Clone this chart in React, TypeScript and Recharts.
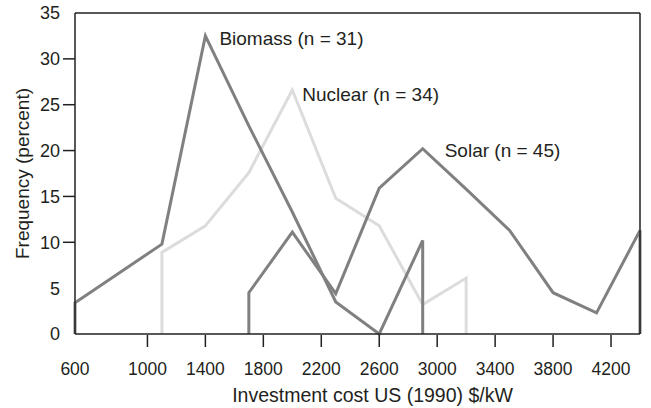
import { LineChart, Line, XAxis, YAxis, ReferenceLine, ReferenceDot } from 'recharts';

// frequency polygons, x = investment cost bin, y = percent
const biomassX = [500, 500, 1100, 1400, 1700, 2000, 2300, 2600, 2900, 2900];
const biomassY = [0, 3.4, 9.8, 32.5, 22.7, 13.3, 3.5, 0, 10.2, 0];

const nuclearX = [1100, 1100, 1400, 1700, 2000, 2300, 2600, 2900, 3200, 3200];
const nuclearY = [0, 8.9, 11.8, 17.6, 26.6, 14.8, 11.8, 3.2, 6.1, 0];

const solarX = [1700, 1700, 2000, 2300, 2600, 2900, 3200, 3500, 3800, 4100, 4400, 4400];
const solarY = [0, 4.5, 11.1, 4.4, 15.9, 20.2, 15.8, 11.3, 4.5, 2.3, 11.3, 0];

const xTicks = [500, 1000, 1400, 1800, 2200, 2600, 3000, 3400, 3800, 4200];
const xTickLabels = ['600', '1000', '1400', '1800', '2200', '2600', '3000', '3400', '3800', '4200'];
const yTicks = [0, 5, 10, 15, 20, 25, 30, 35];
const leftMarks = [10, 15, 20, 25, 30];
const rightMarks = [5, 10, 15, 20, 25, 30];

const labelNames = ['Biomass (n = 31)', 'Nuclear (n = 34)', 'Solar (n = 45)'];
const labelAtX = [1400, 2000, 2900];
const labelAtY = [32.5, 26.6, 20.2];

const FONT = '"Liberation Sans", Arial, Helvetica, sans-serif';
const INK = '#231f20';
const DARK = '#808080';
const LIGHT = '#dcdcdc';
const labelOffsets = [13, 9, 21];
const labelDy = [2, 4, 2];

const pts = (xs: number[], ys: number[]) => xs.map((x, i) => ({ x, y: ys[i] }));

function XTick({ x, y, payload }: any) {
  const i = xTicks.indexOf(payload.value);
  return (
    <g>
      {i > 0 && <line x1={x} x2={x} y1={y + 1} y2={y + 13} stroke={INK} strokeWidth={1.5} />}
      <text x={x} y={y + 41} textAnchor="middle" fontSize={17.5} fontFamily={FONT} fill={INK}>
        {xTickLabels[i]}
      </text>
    </g>
  );
}

function LeftTick({ x, y, payload }: any) {
  const v = payload.value;
  return (
    <g>
      {leftMarks.includes(v) && <line x1={x - 12} x2={x} y1={y} y2={y} stroke={INK} strokeWidth={1.5} />}
      <text x={x - 15} y={y} dy="0.36em" textAnchor="end" fontSize={18} fontFamily={FONT} fill={INK}>
        {v}
      </text>
    </g>
  );
}

function RightTick({ x, y, payload }: any) {
  if (!rightMarks.includes(payload.value)) return <g />;
  return <line x1={x} x2={x + 10} y1={y} y2={y} stroke={INK} strokeWidth={1.5} />;
}

export default function App() {
  const axisLine = { stroke: INK, strokeWidth: 1.5 };
  return (
    <div style={{ position: 'absolute', left: 0, top: 0 }}>
      <LineChart width={651} height={408} margin={{ top: 13, right: 0, bottom: 0, left: 0 }}>
        <XAxis
          type="number"
          dataKey="x"
          domain={[500, 4400]}
          ticks={xTicks}
          interval={0}
          height={74}
          tickSize={0}
          tickMargin={0}
          tickLine={false}
          axisLine={axisLine}
          tick={<XTick />}
          label={{
            value: 'Investment cost US (1990) $/kW',
            position: 'insideBottom',
            offset: 6,
            dx: 15,
            fontSize: 19.5,
            fontFamily: FONT,
            fill: INK,
          }}
        />
        <YAxis
          yAxisId="left"
          type="number"
          domain={[0, 35]}
          ticks={yTicks}
          interval={0}
          width={75}
          tickSize={0}
          tickMargin={0}
          tickLine={false}
          axisLine={axisLine}
          tick={<LeftTick />}
          label={{
            value: 'Frequency (percent)',
            angle: -90,
            position: 'insideLeft',
            offset: 22,
            fontSize: 19,
            fontFamily: FONT,
            fill: INK,
            style: { textAnchor: 'middle' },
          }}
        />
        <YAxis
          yAxisId="right"
          orientation="right"
          type="number"
          domain={[0, 35]}
          ticks={rightMarks}
          interval={0}
          width={11}
          tickSize={0}
          tickMargin={0}
          tickLine={false}
          axisLine={axisLine}
          tick={<RightTick />}
        />
        <ReferenceLine yAxisId="left" y={35} stroke={INK} strokeWidth={1.5} />
        <Line
          yAxisId="left"
          data={pts(nuclearX, nuclearY)}
          dataKey="y"
          type="linear"
          stroke={LIGHT}
          strokeWidth={3}
          dot={false}
          isAnimationActive={false}
        />
        <Line
          yAxisId="left"
          data={pts(biomassX, biomassY)}
          dataKey="y"
          type="linear"
          stroke={DARK}
          strokeWidth={3}
          dot={false}
          isAnimationActive={false}
        />
        <Line
          yAxisId="left"
          data={pts(solarX, solarY)}
          dataKey="y"
          type="linear"
          stroke={DARK}
          strokeWidth={3}
          dot={false}
          isAnimationActive={false}
        />
        {labelNames.map((name, i) => (
          <ReferenceDot
            key={name}
            yAxisId="left"
            x={labelAtX[i]}
            y={labelAtY[i]}
            r={1}
            fill="none"
            stroke="none"
            label={{
              value: name,
              position: 'right',
              offset: labelOffsets[i],
              dy: labelDy[i],
              fontSize: 19,
              fontFamily: FONT,
              fill: INK,
            }}
          />
        ))}
      </LineChart>
    </div>
  );
}
